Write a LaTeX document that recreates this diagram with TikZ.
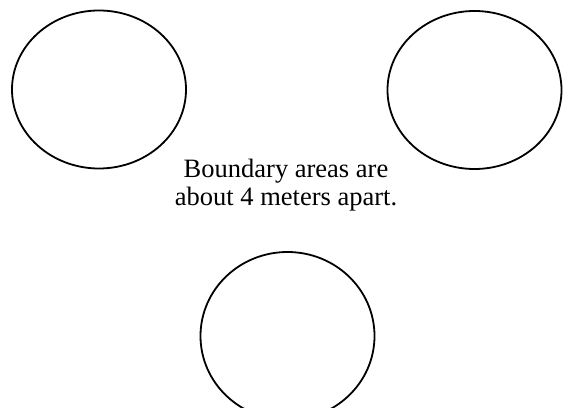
\documentclass[tikz,border=0pt]{standalone}
\usepackage{fontspec}
\setmainfont{Liberation Serif}
\usetikzlibrary{shapes.geometric}

\begin{document}
\begin{tikzpicture}[x=1pt,y=1pt]
\tikzset{
  zone/.style={ellipse,draw=black,line width=1.8pt,minimum width=174pt,minimum height=158pt,inner sep=0pt},
  note/.style={align=center,inner sep=0pt,font=\fontsize{26.5}{28.5}\selectfont}
}
\useasboundingbox (0,0) rectangle (567,407);
\node[zone] (z_left) at (99,317.5) {};
\node[zone] (z_right) at (474.5,317) {};
\node[zone,minimum height=168pt] (z_bottom) at (287.5,71) {};
\node[note] (n_gap) at (286,222) {Boundary areas are\\about 4 meters apart.};
\end{tikzpicture}
\end{document}
